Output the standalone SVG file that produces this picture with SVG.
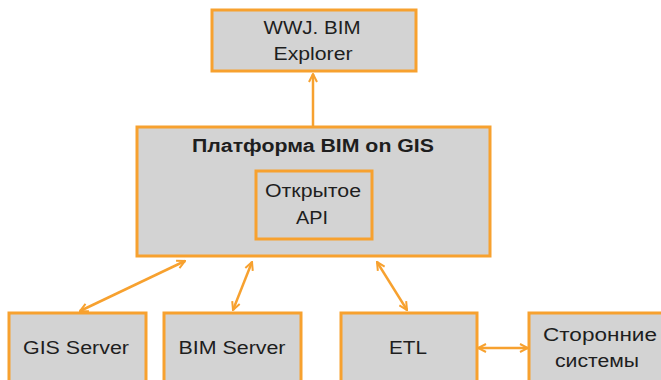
<svg xmlns="http://www.w3.org/2000/svg" width="661" height="380" viewBox="0 0 661 380">
<style>
.box{fill:#d3d3d3;stroke:#f7a12f;stroke-width:3}
.t{font-family:"Liberation Sans",Arial,sans-serif;font-size:18px;fill:#1e1e1e;text-anchor:middle}
.b{font-weight:bold}
.c{stroke:#f7a12f;stroke-width:2.5;fill:none;marker-end:url(#ah)}
.d{marker-start:url(#as)}
</style>
<defs>
<marker id="ah" viewBox="0 0 10 10" refX="9" refY="5" markerWidth="4" markerHeight="4" orient="auto" markerUnits="strokeWidth">
<path d="M1,1 L9,5 L1,9" fill="none" stroke="#f7a12f" stroke-width="2"/>
</marker>
<marker id="as" viewBox="0 0 10 10" refX="1" refY="5" markerWidth="4" markerHeight="4" orient="auto" markerUnits="strokeWidth">
<path d="M9,1 L1,5 L9,9" fill="none" stroke="#f7a12f" stroke-width="2"/>
</marker>
</defs>
<rect width="661" height="380" fill="#fff"/>
<g id="connectors">
<line class="c" x1="313" y1="126" x2="313" y2="74"/>
<line class="c d" x1="80" y1="311" x2="185" y2="261"/>
<line class="c d" x1="233" y1="310" x2="252" y2="262"/>
<line class="c d" x1="407" y1="310" x2="377" y2="262"/>
<line class="c d" x1="478" y1="348" x2="528" y2="348"/>
</g>
<g id="wwj">
<rect class="box" x="212" y="10" width="204" height="61"/>
<text class="t" x="312" y="34" textLength="97" lengthAdjust="spacingAndGlyphs">WWJ. BIM</text>
<text class="t" x="313" y="60" textLength="79" lengthAdjust="spacingAndGlyphs">Explorer</text>
</g>
<g id="platform">
<rect class="box" x="137" y="127" width="353" height="129"/>
<text class="t b" x="313" y="152" textLength="242" lengthAdjust="spacingAndGlyphs">Платформа BIM on GIS</text>
</g>
<g id="api">
<rect class="box" x="256" y="171" width="116" height="68"/>
<text class="t" x="313" y="197" textLength="96" lengthAdjust="spacingAndGlyphs">Открытое</text>
<text class="t" x="312" y="224" textLength="32" lengthAdjust="spacingAndGlyphs">API</text>
</g>
<g id="gis">
<rect class="box" x="9" y="313" width="137" height="72"/>
<text class="t" x="76" y="354" textLength="106" lengthAdjust="spacingAndGlyphs">GIS Server</text>
</g>
<g id="bim">
<rect class="box" x="164" y="313" width="137" height="72"/>
<text class="t" x="232" y="354" textLength="107" lengthAdjust="spacingAndGlyphs">BIM Server</text>
</g>
<g id="etl">
<rect class="box" x="341" y="313" width="136" height="72"/>
<text class="t" x="408" y="354" textLength="38" lengthAdjust="spacingAndGlyphs">ETL</text>
</g>
<g id="ext">
<rect class="box" x="529" y="313" width="140" height="72"/>
<text class="t" x="600" y="341" textLength="114" lengthAdjust="spacingAndGlyphs">Сторонние</text>
<text class="t" x="597" y="367" textLength="84" lengthAdjust="spacingAndGlyphs">системы</text>
</g>
</svg>
